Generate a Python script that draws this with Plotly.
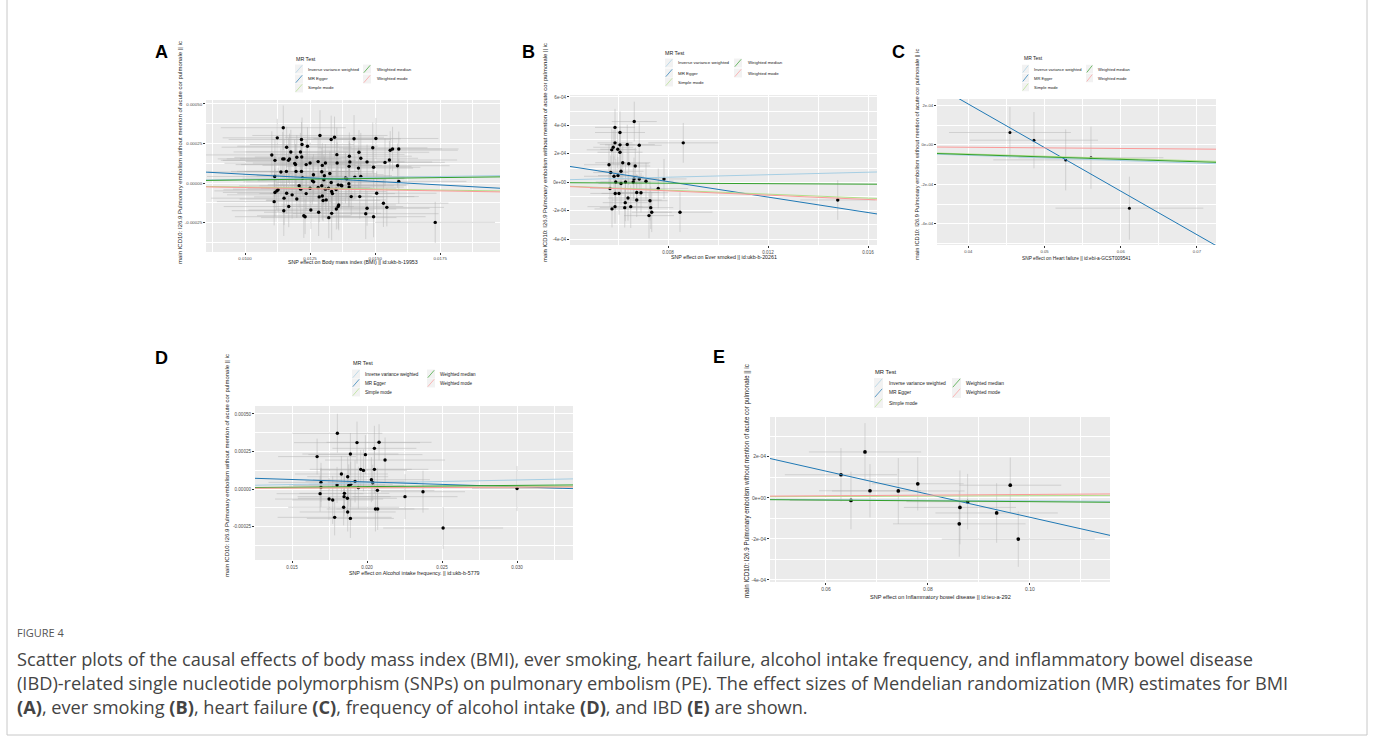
import plotly.graph_objects as go

W, H = 1373, 738

# ---------------- data ----------------
methods = ["Inverse variance weighted", "MR Egger", "Simple mode", "Weighted median", "Weighted mode"]
method_colors = ["#a6cee3", "#1f78b4", "#b2df8a", "#33a02c", "#fb9a99"]

# Panel A: Body mass index
a_x = [0.01147, 0.01124, 0.01288, 0.01344, 0.01331, 0.01217, 0.01219, 0.01160, 0.01176, 0.01240,
       0.01419, 0.01503, 0.01491, 0.01558, 0.01567, 0.01591, 0.01103, 0.01115, 0.01145, 0.01150,
       0.01167, 0.01171, 0.01194, 0.01191, 0.01213, 0.01199, 0.01218, 0.01235, 0.01250, 0.01281,
       0.01309, 0.01297, 0.01353, 0.01354, 0.01401, 0.01403, 0.01438, 0.01445, 0.01469, 0.01494,
       0.01538, 0.01555, 0.01586, 0.01400, 0.01436, 0.01138, 0.01159, 0.01196, 0.01217, 0.01263,
       0.01221, 0.01295, 0.01305, 0.01326, 0.01303, 0.01331, 0.01369, 0.01391, 0.01422, 0.01445,
       0.01386, 0.01114, 0.01115, 0.01122, 0.01127, 0.01150, 0.01160, 0.01181, 0.01199, 0.01208,
       0.01214, 0.01235, 0.01250, 0.01259, 0.01264, 0.01281, 0.01285, 0.01300, 0.01297, 0.01312,
       0.01321, 0.01333, 0.01336, 0.01350, 0.01358, 0.01372, 0.01358, 0.01360, 0.01351, 0.01399,
       0.01408, 0.01441, 0.01469, 0.01464, 0.01494, 0.01532, 0.01545, 0.01506, 0.01333, 0.01322,
       0.01283, 0.01253, 0.01226, 0.01231, 0.01149, 0.01168, 0.01112, 0.01731, 0.01591, 0.01400,
       0.01295, 0.01309]
a_y = [3.50e-4, 2.86e-4, 3.01e-4, 2.90e-4, 2.76e-4, 2.76e-4, 2.44e-4, 2.27e-4, 1.97e-4, 2.33e-4,
       2.80e-4, 2.82e-4, 2.23e-4, 2.08e-4, 2.16e-4, 2.16e-4, 1.78e-4, 1.44e-4, 1.53e-4, 1.53e-4,
       1.44e-4, 1.53e-4, 1.17e-4, 1.25e-4, 1.97e-4, 1.63e-4, 1.65e-4, 1.17e-4, 1.27e-4, 1.36e-4,
       1.27e-4, 1.12e-4, 1.80e-4, 1.27e-4, 1.70e-4, 1.34e-4, 1.95e-4, 1.57e-4, 1.34e-4, 1.00e-4,
       1.31e-4, 1.46e-4, 1.10e-4, 1.06e-4, 9.5e-5, 7.0e-5, 7.4e-5, 7.4e-5, 7.4e-5, 5.3e-5,
       3.2e-5, 7.2e-5, 4.7e-5, 6.1e-5, 2.1e-5, 4e-6, -1.3e-5, 2.8e-5, 3.8e-5, 4.2e-5,
       3.2e-5, 4.2e-5, -5.9e-5, -4.9e-5, -4.2e-5, -9.5e-5, -6.4e-5, -7.4e-5, -1.00e-4, -1.7e-5,
       -3.8e-5, -6.6e-5, -3.2e-5, 1.5e-5, 8e-6, -2.8e-5, -8.7e-5, -1.10e-4, -8.1e-5, -1.06e-4,
       -3.2e-5, -5.3e-5, -6.6e-5, -4.0e-5, -1.1e-5, -1.7e-5, -1.48e-4, -1.38e-4, -1.63e-4, -4e-6,
       -8.5e-5, -8.5e-5, -1.59e-4, -1.93e-4, -2.12e-4, -1.27e-4, -1.53e-4, -6.4e-5, -1.91e-4, -2.18e-4,
       -1.84e-4, -1.70e-4, -2.06e-4, -2.12e-4, -1.74e-4, -1.48e-4, -1.17e-4, -2.48e-4, 1.1e-5, -2.5e-5,
       -1.7e-5, -3.8e-5]
a_sx = [0.0024, 0.0021, 0.0026, 0.0019, 0.0023, 0.0028, 0.0020, 0.0025, 0.0022, 0.0027,
        0.0018, 0.0024, 0.0021, 0.0026, 0.0019, 0.0023, 0.0029, 0.0020, 0.0025, 0.0022,
        0.0026, 0.0019, 0.0023, 0.0027, 0.0021, 0.0024, 0.0018, 0.0025, 0.0022, 0.0028,
        0.0020, 0.0023, 0.0026, 0.0019, 0.0024, 0.0021, 0.0027, 0.0022, 0.0025, 0.0018,
        0.0023, 0.0026, 0.0020, 0.0024, 0.0021, 0.0028, 0.0019, 0.0025, 0.0022, 0.0027,
        0.0023, 0.0020, 0.0026, 0.0018, 0.0024, 0.0021, 0.0025, 0.0022, 0.0019, 0.0027,
        0.0023, 0.0026, 0.0020, 0.0024, 0.0021, 0.0028, 0.0019, 0.0025, 0.0022, 0.0023,
        0.0026, 0.0018, 0.0024, 0.0021, 0.0027, 0.0020, 0.0025, 0.0022, 0.0019, 0.0023,
        0.0026, 0.0021, 0.0024, 0.0018, 0.0027, 0.0020, 0.0025, 0.0022, 0.0023, 0.0019,
        0.0026, 0.0021, 0.0024, 0.0028, 0.0020, 0.0025, 0.0022, 0.0023, 0.0019, 0.0026,
        0.0021, 0.0024, 0.0018, 0.0027, 0.0020, 0.0025, 0.0022, 0.0023, 0.0026, 0.0021,
        0.0024, 0.0019]
a_sy = [1.4e-4, 1.2e-4, 1.6e-4, 1.3e-4, 1.5e-4, 1.1e-4, 1.7e-4, 1.3e-4, 1.4e-4, 1.2e-4,
        1.5e-4, 1.3e-4, 1.6e-4, 1.2e-4, 1.4e-4, 1.1e-4, 1.5e-4, 1.3e-4, 1.7e-4, 1.2e-4,
        1.4e-4, 1.6e-4, 1.3e-4, 1.5e-4, 1.2e-4, 1.4e-4, 1.1e-4, 1.6e-4, 1.3e-4, 1.5e-4,
        1.2e-4, 1.4e-4, 1.7e-4, 1.3e-4, 1.5e-4, 1.2e-4, 1.4e-4, 1.6e-4, 1.1e-4, 1.3e-4,
        1.5e-4, 1.2e-4, 1.4e-4, 1.6e-4, 1.3e-4, 1.5e-4, 1.2e-4, 1.7e-4, 1.4e-4, 1.3e-4,
        1.1e-4, 1.5e-4, 1.2e-4, 1.4e-4, 1.6e-4, 1.3e-4, 1.5e-4, 1.2e-4, 1.4e-4, 1.1e-4,
        1.6e-4, 1.3e-4, 1.5e-4, 1.2e-4, 1.4e-4, 1.7e-4, 1.3e-4, 1.5e-4, 1.2e-4, 1.4e-4,
        1.6e-4, 1.1e-4, 1.3e-4, 1.5e-4, 1.2e-4, 1.4e-4, 1.6e-4, 1.3e-4, 1.5e-4, 1.2e-4,
        1.4e-4, 1.7e-4, 1.1e-4, 1.3e-4, 1.5e-4, 1.2e-4, 1.4e-4, 1.6e-4, 1.3e-4, 1.5e-4,
        1.2e-4, 1.4e-4, 1.1e-4, 1.6e-4, 1.3e-4, 1.5e-4, 1.2e-4, 1.4e-4, 1.7e-4, 1.3e-4,
        1.5e-4, 1.2e-4, 1.4e-4, 1.1e-4, 1.6e-4, 1.3e-4, 1.5e-4, 1.3e-4, 1.4e-4, 1.2e-4,
        1.5e-4, 1.3e-4]
a_icpt = [0.0, 1.46e-4, 0.0, 0.0, 0.0]
a_slope = [2.4e-3, -9.0e-3, -2.5e-3, 2.0e-3, -2.8e-3]

# Panel B: Ever smoked
b_x = [0.00665, 0.00588, 0.00608, 0.00588, 0.00637, 0.00608, 0.00685, 0.00861, 0.00581, 0.00575,
       0.00599, 0.00608, 0.00619, 0.00643, 0.00669, 0.00564, 0.00612, 0.00571, 0.00584, 0.00600,
       0.00664, 0.00685, 0.00784, 0.00712, 0.00591, 0.00630, 0.00661, 0.00612, 0.00568, 0.00761,
       0.00589, 0.00604, 0.00675, 0.00692, 0.00640, 0.00675, 0.00728, 0.00629, 0.00651, 0.00588,
       0.00627, 0.00576, 0.00731, 0.00735, 0.00724, 0.00848, 0.01479]
b_y = [4.27e-4, 3.86e-4, 3.50e-4, 2.77e-4, 2.65e-4, 2.63e-4, 2.60e-4, 2.77e-4, 2.46e-4, 2.28e-4,
       2.32e-4, 2.11e-4, 1.37e-4, 1.30e-4, 1.14e-4, 1.23e-4, 7.7e-5, 6.8e-5, 4.2e-5, 4.7e-5,
       2.3e-5, 2.3e-5, 2.3e-5, 7e-6, 2e-6, 2e-6, 2e-6, -9e-6, -4.4e-5, -4.4e-5,
       -7.9e-5, -7.9e-5, -7.2e-5, -7.4e-5, -1.11e-4, -1.25e-4, -1.30e-4, -1.44e-4, -1.72e-4, -1.72e-4,
       -1.79e-4, -1.88e-4, -1.79e-4, -2.11e-4, -2.35e-4, -2.11e-4, -1.25e-4]
b_sx = [0.0009, 0.0008, 0.0010, 0.0007, 0.0011, 0.0006, 0.0009, 0.0014, 0.0008, 0.0010,
        0.0007, 0.0009, 0.0011, 0.0008, 0.0006, 0.0010, 0.0009, 0.0007, 0.0012, 0.0008,
        0.0010, 0.0007, 0.0009, 0.0011, 0.0008, 0.0010, 0.0006, 0.0009, 0.0008, 0.0012,
        0.0010, 0.0007, 0.0009, 0.0011, 0.0008, 0.0010, 0.0007, 0.0009, 0.0008, 0.0011,
        0.0010, 0.0007, 0.0009, 0.0008, 0.0010, 0.0013, 0.0015]
b_sy = [1.4e-4, 1.3e-4, 1.5e-4, 1.2e-4, 1.4e-4, 1.3e-4, 1.6e-4, 1.4e-4, 1.2e-4, 1.5e-4,
        1.3e-4, 1.4e-4, 1.2e-4, 1.5e-4, 1.3e-4, 1.4e-4, 1.6e-4, 1.2e-4, 1.4e-4, 1.3e-4,
        1.5e-4, 1.2e-4, 1.4e-4, 1.3e-4, 1.6e-4, 1.4e-4, 1.2e-4, 1.5e-4, 1.3e-4, 1.4e-4,
        1.2e-4, 1.5e-4, 1.3e-4, 1.4e-4, 1.6e-4, 1.2e-4, 1.4e-4, 1.3e-4, 1.5e-4, 1.2e-4,
        1.4e-4, 1.3e-4, 1.5e-4, 1.4e-4, 1.6e-4, 1.4e-4, 1.4e-4]
b_icpt = [0.0, 2.22e-4, 0.0, 0.0, 0.0]
b_slope = [4.4e-3, -2.722e-2, -7.0e-3, -8.5e-4, -7.6e-3]

# Panel C: Heart failure
c_x = [0.04547, 0.04862, 0.05278, 0.05610, 0.06114]
c_y = [6.3e-5, 2.4e-5, -7.6e-5, -6.5e-5, -3.21e-4]
c_sx = [0.0080, 0.0084, 0.0095, 0.0095, 0.0097]
c_sy = [1.30e-4, 1.43e-4, 1.55e-4, 1.58e-4, 1.60e-4]
c_icpt = [0.0, 1.092e-3, 0.0, 0.0, 0.0]
c_slope = [-1.32e-3, -2.211e-2, -1.15e-3, -1.22e-3, -3.0e-4]

# Panel D: Alcohol intake frequency
d_x = [0.01802, 0.01933, 0.02080, 0.02049, 0.01989, 0.01889, 0.01667, 0.02120, 0.01958, 0.01976,
       0.02049, 0.01829, 0.01871, 0.02029, 0.01920, 0.02038, 0.01693, 0.01891, 0.01878, 0.01800,
       0.01693, 0.01942, 0.02069, 0.01687, 0.01847, 0.01747, 0.01771, 0.01869, 0.01849, 0.02253,
       0.02373, 0.01844, 0.01871, 0.02056, 0.02071, 0.01784, 0.01889, 0.02507, 0.03000]
d_y = [3.71e-4, 3.09e-4, 3.11e-4, 2.71e-4, 2.29e-4, 2.33e-4, 2.16e-4, 1.93e-4, 1.31e-4, 1.24e-4,
       1.31e-4, 1.00e-4, 8.2e-5, 6.2e-5, 5.1e-5, 4.2e-5, 4.4e-5, 3.1e-5, 2.4e-5, 2.7e-5,
       1.1e-5, 9e-6, -9e-6, -3.1e-5, -5.1e-5, -6.7e-5, -7.3e-5, -6.2e-5, -2.9e-5, -5.1e-5,
       -1.8e-5, -1.22e-4, -1.53e-4, -1.33e-4, -1.33e-4, -1.89e-4, -1.96e-4, -2.60e-4, 3e-6]
d_sx = [0.0030, 0.0042, 0.0035, 0.0028, 0.0038, 0.0032, 0.0026, 0.0040, 0.0034, 0.0029,
        0.0036, 0.0031, 0.0027, 0.0039, 0.0033, 0.0030, 0.0035, 0.0028, 0.0037, 0.0032,
        0.0026, 0.0034, 0.0038, 0.0029, 0.0031, 0.0036, 0.0027, 0.0033, 0.0030, 0.0035,
        0.0028, 0.0037, 0.0032, 0.0026, 0.0034, 0.0038, 0.0029, 0.0040, 0.0030]
d_sy = [1.3e-4, 1.4e-4, 1.2e-4, 1.5e-4, 1.3e-4, 1.4e-4, 1.2e-4, 1.5e-4, 1.3e-4, 1.4e-4,
        1.6e-4, 1.2e-4, 1.3e-4, 1.5e-4, 1.4e-4, 1.2e-4, 1.3e-4, 1.5e-4, 1.4e-4, 1.2e-4,
        1.3e-4, 1.4e-4, 1.5e-4, 1.2e-4, 1.3e-4, 1.4e-4, 1.6e-4, 1.2e-4, 1.3e-4, 1.5e-4,
        1.4e-4, 1.2e-4, 1.3e-4, 1.5e-4, 1.4e-4, 1.2e-4, 1.3e-4, 1.4e-4, 1.5e-4]
d_icpt = [0.0, 1.12e-4, 0.0, 0.0, 0.0]
d_slope = [2.0e-3, -3.25e-3, 5.0e-4, 8.0e-4, 4.0e-4]

# Panel E: Inflammatory bowel disease
e_x = [0.06294, 0.06490, 0.06765, 0.06863, 0.07418, 0.07800, 0.08627, 0.08614, 0.08778, 0.09347,
       0.09614, 0.09771]
e_y = [1.12e-4, -1.3e-5, 2.23e-4, 3.4e-5, 3.3e-5, 6.8e-5, -4.7e-5, -1.27e-4, -1.9e-5, -7.4e-5,
       6.1e-5, -2.01e-4]
e_sx = [0.011, 0.012, 0.011, 0.010, 0.013, 0.009, 0.011, 0.013, 0.012, 0.012, 0.010, 0.015]
e_sy = [1.30e-4, 1.40e-4, 1.40e-4, 1.30e-4, 1.60e-4, 1.30e-4, 1.80e-4, 1.60e-4, 1.35e-4, 1.45e-4,
        1.35e-4, 1.35e-4]
e_icpt = [0.0, 4.66e-4, 0.0, 0.0, 0.0]
e_slope = [-1.5e-4, -5.61e-3, 1.0e-4, -1.9e-4, 1.6e-4]

# tick labels
ticks_A_x = [0.0100, 0.0125, 0.0150, 0.0175]
labels_A_x = ["0.0100", "0.0125", "0.0150", "0.0175"]
ticks_A_y = [-0.00025, 0.0, 0.00025, 0.00050]
labels_A_y = ["-0.00025", "0.00000", "0.00025", "0.00050"]
ticks_B_x = [0.008, 0.012, 0.016]
labels_B_x = ["0.008", "0.012", "0.016"]
ticks_B_y = [-4e-4, -2e-4, 0.0, 2e-4, 4e-4, 6e-4]
labels_B_y = ["-4e-04", "-2e-04", "0e+00", "2e-04", "4e-04", "6e-04"]
ticks_C_x = [0.04, 0.05, 0.06, 0.07]
labels_C_x = ["0.04", "0.05", "0.06", "0.07"]
ticks_C_y = [-4e-4, -2e-4, 0.0, 2e-4]
labels_C_y = ["-4e-04", "-2e-04", "0e+00", "2e-04"]
ticks_D_x = [0.015, 0.020, 0.025, 0.030]
labels_D_x = ["0.015", "0.020", "0.025", "0.030"]
ticks_D_y = [-0.00025, 0.0, 0.00025, 0.00050]
labels_D_y = ["-0.00025", "0.00000", "0.00025", "0.00050"]
ticks_E_x = [0.06, 0.08, 0.10]
labels_E_x = ["0.06", "0.08", "0.10"]
ticks_E_y = [-4e-4, -2e-4, 0.0, 2e-4]
labels_E_y = ["-4e-04", "-2e-04", "0e+00", "2e-04"]

y_title = "main ICD10: I26.9 Pulmonary embolism without mention of acute cor pulmonale || ic"
x_titles = {
    "A": "SNP effect on Body mass index (BMI) || id:ukb-b-19953",
    "B": "SNP effect on Ever smoked || id:ukb-b-20261",
    "C": "SNP effect on Heart failure || id:ebi-a-GCST009541",
    "D": "SNP effect on Alcohol intake frequency. || id:ukb-b-5779",
    "E": "SNP effect on Inflammatory bowel disease || id:ieu-a-292",
}

# ---------------- layout helpers ----------------
FONT = "Liberation Sans, Arial, sans-serif"


def px(x):
    return x / W


def py(y):
    return 1 - y / H


def minor_vals(t):
    step = t[1] - t[0]
    vals = [t[0] - step / 2] + [(t[i] + t[i + 1]) / 2 for i in range(len(t) - 1)] + [t[-1] + step / 2]
    return vals


panels = [
    dict(k="A", x=a_x, y=a_y, sx=a_sx, sy=a_sy, ic=a_icpt, sl=a_slope,
         tx=ticks_A_x, lx=labels_A_x, ty=ticks_A_y, ly=labels_A_y,
         xr=[0.0085, 0.0198], yr=[-4.35e-4, 5.25e-4], box=(206, 500, 100, 252),
         tickfs=4.4, titlefs=5.3, ytfs=6.0, xt_y=262, yt_x=180, yt_y=153, ms=3.4,
         lab=(161, 52),
         leg=dict(tx=294, ty=59, rows=(69, 79, 88), k1=295, l1=306, k2=363, l2=375, kw=8, kh=9, fs=4.4, tfs=5.3)),
    dict(k="B", x=b_x, y=b_y, sx=b_sx, sy=b_sy, ic=b_icpt, sl=b_slope,
         tx=ticks_B_x, lx=labels_B_x, ty=ticks_B_y, ly=labels_B_y,
         xr=[0.00408, 0.01636], yr=[-4.42e-4, 6.14e-4], box=(570, 877, 95, 245),
         tickfs=4.6, titlefs=5.3, ytfs=5.9, xt_y=257, yt_x=545, yt_y=153, ms=3.4,
         lab=(528, 52),
         leg=dict(tx=663, ty=53, rows=(63, 73, 82), k1=665, l1=676, k2=734, l2=746, kw=8, kh=9, fs=4.4, tfs=5.3)),
    dict(k="C", x=c_x, y=c_y, sx=c_sx, sy=c_sy, ic=c_icpt, sl=c_slope,
         tx=ticks_C_x, lx=labels_C_x, ty=ticks_C_y, ly=labels_C_y,
         xr=[0.0359, 0.0725], yr=[-5.08e-4, 2.33e-4], box=(937, 1216, 99, 245),
         tickfs=4.2, titlefs=4.8, ytfs=5.7, xt_y=258, yt_x=917, yt_y=155, ms=3.0,
         lab=(898, 52),
         leg=dict(tx=1022, ty=58, rows=(69, 78, 87), k1=1022, l1=1032, k2=1086, l2=1096, kw=7, kh=8.5, fs=4.1, tfs=5.0)),
    dict(k="D", x=d_x, y=d_y, sx=d_sx, sy=d_sy, ic=d_icpt, sl=d_slope,
         tx=ticks_D_x, lx=labels_D_x, ty=ticks_D_y, ly=labels_D_y,
         xr=[0.01253, 0.03373], yr=[-4.73e-4, 5.53e-4], box=(255, 573, 406, 560),
         tickfs=4.6, titlefs=5.3, ytfs=6.0, xt_y=573, yt_x=227, yt_y=466, ms=3.4,
         lab=(161, 358),
         leg=dict(tx=351, ty=363, rows=(374, 383, 392), k1=352, l1=363, k2=427, l2=438, kw=8, kh=9, fs=4.6, tfs=5.4)),
    dict(k="E", x=e_x, y=e_y, sx=e_sx, sy=e_sy, ic=e_icpt, sl=e_slope,
         tx=ticks_E_x, lx=labels_E_x, ty=ticks_E_y, ly=labels_E_y,
         xr=[0.04902, 0.1157], yr=[-4.1e-4, 3.93e-4], box=(770, 1110, 417, 582),
         tickfs=5.0, titlefs=5.6, ytfs=6.3, xt_y=597, yt_x=747, yt_y=481, ms=3.7,
         lab=(719, 357),
         leg=dict(tx=873, ty=372, rows=(383, 393, 403), k1=874, l1=887, k2=952, l2=964, kw=9, kh=10, fs=4.9, tfs=5.8)),
]

fig = go.Figure()
shapes = []
annotations = []

for i, p in enumerate(panels, start=1):
    xa = "x" if i == 1 else f"x{i}"
    ya = "y" if i == 1 else f"y{i}"
    l, r, t, b = p["box"]
    # error bars + points
    fig.add_trace(go.Scatter(
        x=p["x"], y=p["y"], mode="markers", xaxis=xa, yaxis=ya, showlegend=False,
        marker=dict(color="black", size=p["ms"]),
        error_x=dict(type="data", array=p["sx"], color="rgba(175,175,175,0.75)", thickness=0.6, width=0),
        error_y=dict(type="data", array=p["sy"], color="rgba(175,175,175,0.75)", thickness=0.6, width=0),
    ))
    # MR method lines
    x0, x1 = p["xr"]
    for m in range(len(methods)):
        a, s = p["ic"][m], p["sl"][m]
        fig.add_trace(go.Scatter(
            x=[x0, x1], y=[a + s * x0, a + s * x1], mode="lines", xaxis=xa, yaxis=ya,
            showlegend=False, line=dict(color=method_colors[m], width=1.0)))
    axis_common = dict(showline=False, zeroline=False, showgrid=True, gridcolor="white", gridwidth=0.7,
                       ticks="outside", ticklen=2, tickwidth=0.5, tickcolor="#333333",
                       tickfont=dict(family=FONT, size=p["tickfs"], color="#4d4d4d"), tickmode="array")
    fig.layout[f"xaxis{i if i > 1 else ''}"] = dict(
        axis_common, domain=[px(l), px(r)], range=p["xr"], anchor=ya,
        tickvals=p["tx"], ticktext=p["lx"],
        minor=dict(tickvals=minor_vals(p["tx"]), showgrid=True, gridcolor="white", gridwidth=0.35, ticks=""))
    fig.layout[f"yaxis{i if i > 1 else ''}"] = dict(
        axis_common, domain=[py(b), py(t)], range=p["yr"], anchor=xa,
        tickvals=p["ty"], ticktext=p["ly"],
        minor=dict(tickvals=minor_vals(p["ty"]), showgrid=True, gridcolor="white", gridwidth=0.35, ticks=""))
    # axis titles
    annotations.append(dict(x=px((l + r) / 2), y=py(p["xt_y"]), xref="paper", yref="paper",
                            text=x_titles[p["k"]], showarrow=False, xanchor="center", yanchor="middle",
                            font=dict(family=FONT, size=p["titlefs"], color="#1a1a1a")))
    annotations.append(dict(x=px(p["yt_x"]), y=py(p["yt_y"]), xref="paper", yref="paper",
                            text=y_title, showarrow=False, textangle=-90, xanchor="center", yanchor="middle",
                            font=dict(family=FONT, size=p["ytfs"], color="#1a1a1a")))
    # panel letter
    annotations.append(dict(x=px(p["lab"][0]), y=py(p["lab"][1]), xref="paper", yref="paper",
                            text=f"<b>{p['k']}</b>", showarrow=False, xanchor="center", yanchor="middle",
                            font=dict(family=FONT, size=18, color="black")))
    # legend (drawn like ggplot's top legend)
    g = p["leg"]
    annotations.append(dict(x=px(g["tx"]), y=py(g["ty"]), xref="paper", yref="paper", text="MR Test",
                            showarrow=False, xanchor="left", yanchor="middle",
                            font=dict(family=FONT, size=g["tfs"], color="#1a1a1a")))
    slots = [(g["k1"], g["l1"], g["rows"][0]), (g["k1"], g["l1"], g["rows"][1]), (g["k1"], g["l1"], g["rows"][2]),
             (g["k2"], g["l2"], g["rows"][0]), (g["k2"], g["l2"], g["rows"][1])]
    for m, (kx, lx, ry) in enumerate(slots):
        kw, kh = g["kw"], g["kh"]
        shapes.append(dict(type="rect", xref="paper", yref="paper", x0=px(kx), x1=px(kx + kw),
                           y0=py(ry + kh / 2), y1=py(ry - kh / 2), fillcolor="#F2F2F2", line=dict(width=0),
                           layer="above"))
        shapes.append(dict(type="line", xref="paper", yref="paper", x0=px(kx + 0.8), y0=py(ry + kh / 2 - 0.8),
                           x1=px(kx + kw - 0.8), y1=py(ry - kh / 2 + 0.8),
                           line=dict(color=method_colors[m], width=0.7), layer="above"))
        annotations.append(dict(x=px(lx), y=py(ry), xref="paper", yref="paper", text=methods[m],
                                showarrow=False, xanchor="left", yanchor="middle",
                                font=dict(family=FONT, size=g["fs"], color="#1a1a1a")))

# outer frame
shapes.append(dict(type="rect", xref="paper", yref="paper", x0=px(7), x1=px(1367), y0=py(735), y1=py(-5),
                   line=dict(color="#c8c8c8", width=1), fillcolor="rgba(0,0,0,0)"))

# caption
CAP = "Open Sans, Noto Sans, sans-serif"
annotations.append(dict(x=px(15), y=py(632), xref="paper", yref="paper", text="FIGURE 4", showarrow=False,
                        xanchor="left", yanchor="middle", font=dict(family=CAP, size=11, color="#555555")))
cap_lines = [
    "Scatter plots of the causal effects of body mass index (BMI), ever smoking, heart failure, alcohol intake frequency, and inflammatory bowel disease",
    "(IBD)-related single nucleotide polymorphism (SNPs) on pulmonary embolism (PE). The effect sizes of Mendelian randomization (MR) estimates for BMI",
    "<b>(A)</b>, ever smoking <b>(B)</b>, heart failure <b>(C)</b>, frequency of alcohol intake <b>(D)</b>, and IBD <b>(E)</b> are shown.",
]
for j, line in enumerate(cap_lines):
    annotations.append(dict(x=px(15), y=py(659 + 24 * j), xref="paper", yref="paper", text=line,
                            showarrow=False, xanchor="left", yanchor="middle",
                            font=dict(family=CAP, size=18.2, color="#444444")))

fig.update_layout(
    width=W, height=H, margin=dict(l=0, r=0, t=0, b=0),
    paper_bgcolor="white", plot_bgcolor="#EBEBEB",
    shapes=shapes, annotations=annotations, showlegend=False,
)

fig.write_html("out.html", config={"displayModeBar": False},
               post_script="document.body.style.margin='0';")
